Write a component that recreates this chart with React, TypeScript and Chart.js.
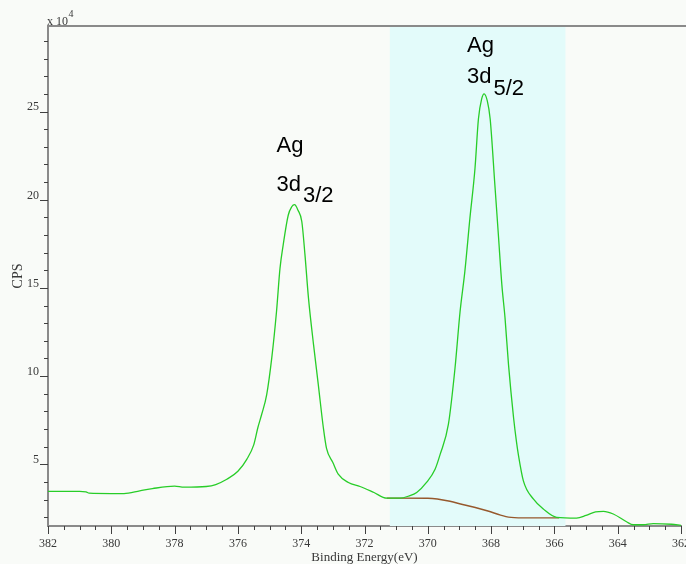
import React, { useEffect, useRef } from "react";
import { Chart, registerables } from "chart.js";

Chart.register(...registerables);

// Binding energy (eV) and intensity (CPS, x 10^4) of the measured spectrum
const energy = [
  382.0, 381.5, 381.0, 380.8, 380.7, 380.0, 379.6, 379.1, 378.7, 378.0, 377.7, 377.0,
  376.7, 376.35, 376.0, 375.72, 375.5, 375.37, 375.25, 375.09, 374.93, 374.78, 374.67,
  374.57, 374.41, 374.3, 374.21, 374.1, 373.98, 373.88, 373.77, 373.61, 373.46, 373.3,
  373.2, 373.0, 372.83, 372.51, 372.14, 371.7, 371.3, 370.88, 370.6, 370.35, 370.04,
  369.77, 369.61, 369.35, 369.14, 368.98, 368.83, 368.67, 368.51, 368.4, 368.3, 368.22,
  368.12, 368.03, 367.88, 367.77, 367.66, 367.56, 367.45, 367.29, 367.2, 367.14, 366.98,
  366.66, 366.35, 365.93, 365.3, 365.0, 364.7, 364.45, 364.14, 363.72, 363.51, 363.19,
  362.88, 362.3, 362.0,
];
const counts = [
  3.46, 3.46, 3.46, 3.44, 3.36, 3.34, 3.34, 3.49, 3.62, 3.76, 3.7, 3.74,
  3.85, 4.15, 4.6, 5.28, 6.1, 7.07, 7.82, 8.95, 11.03, 13.66, 16.11,
  17.43, 19.12, 19.6, 19.72, 19.4, 18.75, 16.86, 14.42, 11.78, 9.52, 7.07,
  5.9, 5.1, 4.44, 3.97, 3.74, 3.4, 3.08, 3.08, 3.2, 3.4, 3.97,
  4.72, 5.56, 7.26, 10.46, 13.66, 15.92, 18.94, 21.76, 24.59, 25.7, 26.0,
  25.6, 24.59, 20.82, 18.0, 15.17, 13.3, 10.65, 7.64, 6.3, 5.56, 4.06,
  3.02, 2.46, 1.99, 1.95, 2.1, 2.3, 2.33, 2.18, 1.74, 1.57, 1.57,
  1.64, 1.6, 1.54,
];

// Background (baseline) under the 3d5/2 peak
const bgEnergy = [371.3, 370.0, 369.7, 369.3, 368.9, 368.5, 368.1, 367.7, 367.45, 367.0, 365.85];
const bgCounts = [3.08, 3.07, 3.03, 2.9, 2.72, 2.55, 2.35, 2.12, 2.0, 1.96, 1.96];

// Highlighted fit region (eV)
const regionStart = 371.2;
const regionEnd = 365.65;

// Axes
const xMin = 362;
const xMax = 382;
const yMin = 1.5;
const yMax = 29.85;
const xLabelEvery = 2;
const xMinorStep = 0.5;
const yLabelEvery = 5;
const yMinorStep = 1;

// Peak labels
const peakElement = ["Ag", "Ag"];
const peakOrbital = ["3d", "3d"];
const peakSub = ["3/2", "5/2"];

const BG = "#f9fbf8";
const TXT = "#383838";

// pixel layout of the peak labels (left x, baselines)
const LABEL_LAYOUT = [
  { x: 276.5, agBase: 151.5, dBase: 191, subDrop: 10.5 },
  { x: 467, agBase: 51.5, dBase: 83.3, subDrop: 11.7 },
];

const decor = {
  id: "decor",
  beforeDraw(chart: any) {
    const ctx = chart.ctx;
    ctx.save();
    ctx.fillStyle = BG;
    ctx.fillRect(0, 0, chart.width, chart.height);
    ctx.restore();
  },
  beforeDatasetsDraw(chart: any) {
    const { ctx, chartArea, scales } = chart;
    const a = scales.x.getPixelForValue(regionStart);
    const b = scales.x.getPixelForValue(regionEnd);
    ctx.save();
    ctx.fillStyle = "#e3fbfa";
    ctx.fillRect(Math.min(a, b), chartArea.top, Math.abs(b - a), chartArea.bottom - chartArea.top);
    ctx.restore();
  },
  afterDraw(chart: any) {
    const { ctx, chartArea, scales } = chart;
    const xs = scales.x;
    const ys = scales.y;
    ctx.save();
    ctx.strokeStyle = "#404040";
    ctx.lineWidth = 1;
    ctx.beginPath();
    xs.ticks.forEach((t: any) => {
      const v = t.value;
      if (Math.abs(v / xMinorStep - Math.round(v / xMinorStep)) > 1e-6) return;
      const major = Math.abs(v / xLabelEvery - Math.round(v / xLabelEvery)) < 1e-6;
      const px = Math.round(xs.getPixelForValue(v)) + 0.5;
      ctx.moveTo(px, chartArea.bottom);
      ctx.lineTo(px, chartArea.bottom + (major ? 8 : 4));
    });
    ys.ticks.forEach((t: any) => {
      const v = t.value;
      if (Math.abs(v / yMinorStep - Math.round(v / yMinorStep)) > 1e-6) return;
      const major = Math.abs(v / yLabelEvery - Math.round(v / yLabelEvery)) < 1e-6;
      const py = Math.round(ys.getPixelForValue(v)) + 0.5;
      ctx.moveTo(chartArea.left, py);
      ctx.lineTo(chartArea.left - (major ? 8 : 4), py);
    });
    ctx.stroke();

    // top frame line
    ctx.strokeStyle = "#8a8a8a";
    ctx.lineWidth = 2;
    ctx.beginPath();
    ctx.moveTo(chartArea.left - 1, chartArea.top);
    ctx.lineTo(chart.width, chartArea.top);
    ctx.stroke();

    // multiplier
    ctx.fillStyle = TXT;
    ctx.textBaseline = "alphabetic";
    ctx.textAlign = "left";
    ctx.font = '12px "Liberation Serif"';
    const base = "x 10";
    ctx.fillText(base, 47, 25);
    const w = ctx.measureText(base).width;
    ctx.font = '10px "Liberation Serif"';
    ctx.fillText("4", 47 + w + 0.5, 17);

    // peak labels
    ctx.fillStyle = "#000";
    ctx.font = '22px "Liberation Sans"';
    peakElement.forEach((el, i) => {
      const L = LABEL_LAYOUT[i];
      ctx.fillText(el, L.x, L.agBase);
      ctx.fillText(peakOrbital[i], L.x, L.dBase);
      const dw = ctx.measureText(peakOrbital[i]).width;
      ctx.fillText(peakSub[i], L.x + dw + 2, L.dBase + L.subDrop);
    });
    ctx.restore();
  },
};

export default function App() {
  const ref = useRef<HTMLCanvasElement | null>(null);
  useEffect(() => {
    if (!ref.current) return;
    const chart = new Chart(ref.current, {
      type: "line",
      data: {
        datasets: [
          {
            data: energy.map((e, i) => ({ x: e, y: counts[i] })),
            borderColor: "rgb(40,205,40)",
            borderWidth: 1.3,
            pointRadius: 0,
            cubicInterpolationMode: "monotone",
            fill: false,
          },
          {
            data: bgEnergy.map((e, i) => ({ x: e, y: bgCounts[i] })),
            borderColor: "#96582c",
            borderWidth: 1.4,
            pointRadius: 0,
            cubicInterpolationMode: "monotone",
            fill: false,
          },
        ],
      },
      options: {
        animation: false,
        responsive: false,
        maintainAspectRatio: false,
        layout: { padding: { top: 26, right: 5, left: 0, bottom: 0 } },
        plugins: { legend: { display: false }, tooltip: { enabled: false } },
        scales: {
          x: {
            type: "linear",
            reverse: true,
            min: xMin,
            max: xMax,
            afterFit: (s: any) => {
              s.height = 38;
              s.paddingLeft = 0;
              s.paddingRight = 0;
            },
            border: { color: "#8a8a8a", width: 2 },
            grid: { drawOnChartArea: false, drawTicks: true, tickLength: 8, tickColor: "rgba(0,0,0,0)" },
            ticks: {
              stepSize: xMinorStep,
              autoSkip: false,
              maxRotation: 0,
              minRotation: 0,
              padding: 3,
              color: TXT,
              font: { family: "Liberation Serif", size: 12 },
              callback: (v: any) => {
                const n = Number(v);
                return Math.abs(n / xLabelEvery - Math.round(n / xLabelEvery)) < 1e-6 ? String(n) : "";
              },
            },
            title: {
              display: true,
              text: "Binding Energy(eV)",
              color: TXT,
              font: { family: "Liberation Serif", size: 13, lineHeight: 0.92 },
              padding: { top: 0, bottom: 0 },
            },
          },
          y: {
            type: "linear",
            min: yMin,
            max: yMax,
            afterFit: (s: any) => {
              s.width = 48;
              s.paddingTop = 0;
              s.paddingBottom = 0;
            },
            border: { color: "#8a8a8a", width: 2 },
            grid: { drawOnChartArea: false, drawTicks: true, tickLength: 8, tickColor: "rgba(0,0,0,0)" },
            ticks: {
              stepSize: yMinorStep,
              autoSkip: false,
              includeBounds: false,
              padding: 1,
              color: TXT,
              font: { family: "Liberation Serif", size: 12, lineHeight: 0.7 },
              callback: (v: any) => {
                const n = Number(v);
                return Math.abs(n / yLabelEvery - Math.round(n / yLabelEvery)) < 1e-6 ? [String(n), ""] : "";
              },
            },
            title: {
              display: true,
              text: "CPS",
              color: TXT,
              font: { family: "Liberation Serif", size: 14, lineHeight: 1.2 },
              padding: { top: 10, bottom: 0 },
            },
          },
        },
      },
      plugins: [decor],
    } as any);
    return () => chart.destroy();
  }, []);
  return (
    <div style={{ position: "absolute", left: 0, top: 0, width: 686, height: 564, background: BG }}>
      <canvas ref={ref} width={686} height={564} style={{ display: "block" }} />
    </div>
  );
}
